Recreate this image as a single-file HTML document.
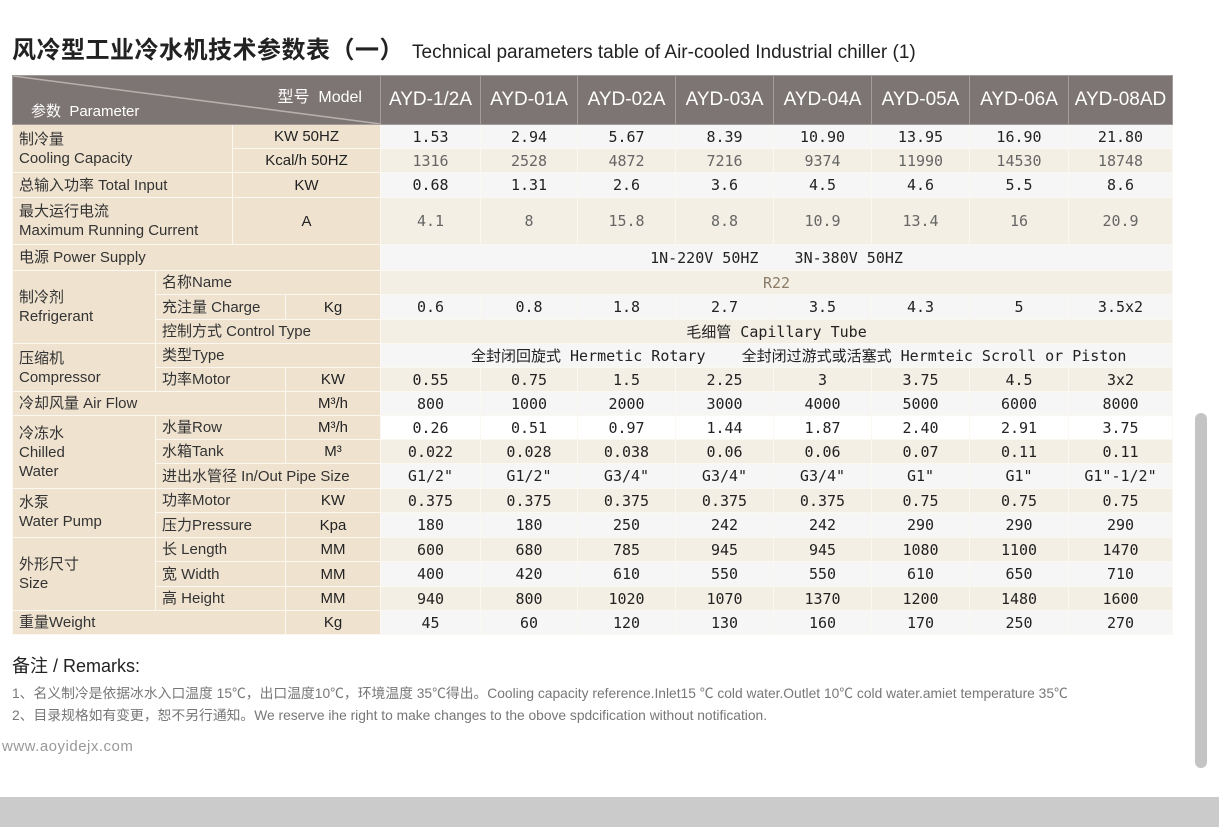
<!DOCTYPE html>
<html><head><meta charset="utf-8">
<style>
html,body{margin:0;padding:0;background:#fff;width:1219px;height:832px;overflow:hidden;position:relative;font-family:"Liberation Sans","Noto Sans CJK SC",sans-serif;}
.title{position:absolute;left:12px;top:30px;white-space:nowrap;color:#222;}
.title .cn{font-size:24px;font-weight:bold;letter-spacing:0.5px;}
.title .en{font-size:19px;margin-left:8px;}
table{position:absolute;left:12px;top:75px;border-collapse:collapse;table-layout:fixed;width:1160px;}
td{padding:0;border:1px solid #fbf7f1;font-size:15px;overflow:hidden;white-space:nowrap;}
td.p{background:#efe3d0;color:#333;padding-left:6px;line-height:19px;}
td.u{background:#efe3d0;color:#222;text-align:center;}
td.v{text-align:center;font-family:"DejaVu Sans Mono","Noto Sans CJK SC",monospace;color:#222;}
tr.a td.v{background:#f6f6f6;}
tr.b td.v{background:#f4efe4;}
tr.g td.v{color:#666;}
th{background:#7d7573;color:#fff;font-weight:normal;font-size:19px;border:1px solid #a39c9a;height:46px;}
.grp{vertical-align:middle;}
.remarks{position:absolute;left:12px;top:652px;font-size:18px;color:#222;}
.note{position:absolute;left:12px;font-size:13.8px;color:#777;white-space:nowrap;}
.site{position:absolute;left:2px;top:738px;font-size:15px;color:#999;letter-spacing:0.5px;}
.band{position:absolute;left:0;top:797px;width:1219px;height:30px;background:#cbcbcb;}
.sb{position:absolute;left:1195px;top:413px;width:12px;height:355px;background:#c4c4c4;border-radius:6px;}
</style></head><body>
<div class="title"><span class="cn">风冷型工业冷水机技术参数表（一）</span><span class="en">Technical parameters table of Air-cooled Industrial chiller (1)</span></div>
<table>
<colgroup><col style="width:143px"><col style="width:77px"><col style="width:53px"><col style="width:95px"><col style="width:100px"><col style="width:97px"><col style="width:98px"><col style="width:98px"><col style="width:98px"><col style="width:98px"><col style="width:99px"><col style="width:104px"></colgroup>
<tr style="height:48px"><th colspan="4" style="position:relative;text-align:left;">
<svg width="368" height="48" style="position:absolute;left:0;top:0"><line x1="0" y1="0" x2="368" y2="48" stroke="#b8b0ad" stroke-width="1.5"/></svg>
<span style="position:absolute;right:18px;top:7px;font-size:16px;">型号&nbsp; Model</span>
<span style="position:absolute;left:18px;top:24px;font-size:15px;">参数&nbsp; Parameter</span></th>
<th>AYD-1/2A</th><th>AYD-01A</th><th>AYD-02A</th><th>AYD-03A</th><th>AYD-04A</th><th>AYD-05A</th><th>AYD-06A</th><th>AYD-08AD</th></tr>
<tr class="a" style="height:24px"><td class="p grp" colspan="2" rowspan="2">制冷量<br>Cooling Capacity</td><td class="u" colspan="2">KW 50HZ</td><td class="v">1.53</td><td class="v">2.94</td><td class="v">5.67</td><td class="v">8.39</td><td class="v">10.90</td><td class="v">13.95</td><td class="v">16.90</td><td class="v">21.80</td></tr>
<tr class="b g" style="height:24px"><td class="u" colspan="2">Kcal/h 50HZ</td><td class="v">1316</td><td class="v">2528</td><td class="v">4872</td><td class="v">7216</td><td class="v">9374</td><td class="v">11990</td><td class="v">14530</td><td class="v">18748</td></tr>
<tr class="a" style="height:25px"><td class="p" colspan="2">总输入功率 Total Input</td><td class="u" colspan="2">KW</td><td class="v">0.68</td><td class="v">1.31</td><td class="v">2.6</td><td class="v">3.6</td><td class="v">4.5</td><td class="v">4.6</td><td class="v">5.5</td><td class="v">8.6</td></tr>
<tr class="b g" style="height:47px"><td class="p" colspan="2">最大运行电流<br>Maximum Running Current</td><td class="u" colspan="2">A</td><td class="v">4.1</td><td class="v">8</td><td class="v">15.8</td><td class="v">8.8</td><td class="v">10.9</td><td class="v">13.4</td><td class="v">16</td><td class="v">20.9</td></tr>
<tr class="a" style="height:26px"><td class="p" colspan="4">电源 Power Supply</td><td class="v" colspan="8">1N-220V 50HZ&nbsp;&nbsp;&nbsp; 3N-380V 50HZ</td></tr>
<tr class="b g" style="height:24px"><td class="p grp" rowspan="3">制冷剂<br>Refrigerant</td><td class="p" colspan="3">名称Name</td><td class="v" colspan="8" style="color:#8a7a66">R22</td></tr>
<tr class="a" style="height:25px"><td class="p" colspan="2">充注量 Charge</td><td class="u">Kg</td><td class="v">0.6</td><td class="v">0.8</td><td class="v">1.8</td><td class="v">2.7</td><td class="v">3.5</td><td class="v">4.3</td><td class="v">5</td><td class="v">3.5x2</td></tr>
<tr class="b" style="height:24px"><td class="p" colspan="3">控制方式 Control Type</td><td class="v" colspan="8">毛细管 Capillary Tube</td></tr>
<tr class="a" style="height:24px"><td class="p grp" rowspan="2">压缩机<br>Compressor</td><td class="p" colspan="3">类型Type</td><td class="v" colspan="8" style="text-align:left;padding-left:90px">全封闭回旋式 Hermetic Rotary&nbsp;&nbsp;&nbsp; 全封闭过游式或活塞式 Hermteic Scroll or Piston</td></tr>
<tr class="b" style="height:24px"><td class="p" colspan="2">功率Motor</td><td class="u">KW</td><td class="v">0.55</td><td class="v">0.75</td><td class="v">1.5</td><td class="v">2.25</td><td class="v">3</td><td class="v">3.75</td><td class="v">4.5</td><td class="v">3x2</td></tr>
<tr class="a" style="height:24px"><td class="p" colspan="3">冷却风量 Air Flow</td><td class="u">M³/h</td><td class="v">800</td><td class="v">1000</td><td class="v">2000</td><td class="v">3000</td><td class="v">4000</td><td class="v">5000</td><td class="v">6000</td><td class="v">8000</td></tr>
<tr class="a" style="height:24px"><td class="p grp" rowspan="3">冷冻水<br>Chilled<br>Water</td><td class="p" colspan="2">水量Row</td><td class="u">M³/h</td><td class="v" style="background:#fff">0.26</td><td class="v" style="background:#fff">0.51</td><td class="v" style="background:#fff">0.97</td><td class="v" style="background:#fff">1.44</td><td class="v" style="background:#fff">1.87</td><td class="v" style="background:#fff">2.40</td><td class="v" style="background:#fff">2.91</td><td class="v" style="background:#fff">3.75</td></tr>
<tr class="b" style="height:24px"><td class="p" colspan="2">水箱Tank</td><td class="u">M³</td><td class="v">0.022</td><td class="v">0.028</td><td class="v">0.038</td><td class="v">0.06</td><td class="v">0.06</td><td class="v">0.07</td><td class="v">0.11</td><td class="v">0.11</td></tr>
<tr class="a" style="height:25px"><td class="p" colspan="3">进出水管径 In/Out Pipe Size</td><td class="v">G1/2"</td><td class="v">G1/2"</td><td class="v">G3/4"</td><td class="v">G3/4"</td><td class="v">G3/4"</td><td class="v">G1"</td><td class="v">G1"</td><td class="v">G1"-1/2"</td></tr>
<tr class="b" style="height:24px"><td class="p" rowspan="2" style="vertical-align:top;padding-top:4px">水泵<br>Water Pump</td><td class="p" colspan="2">功率Motor</td><td class="u">KW</td><td class="v">0.375</td><td class="v">0.375</td><td class="v">0.375</td><td class="v">0.375</td><td class="v">0.375</td><td class="v">0.75</td><td class="v">0.75</td><td class="v">0.75</td></tr>
<tr class="a" style="height:25px"><td class="p" colspan="2">压力Pressure</td><td class="u">Kpa</td><td class="v">180</td><td class="v">180</td><td class="v">250</td><td class="v">242</td><td class="v">242</td><td class="v">290</td><td class="v">290</td><td class="v">290</td></tr>
<tr class="b" style="height:24px"><td class="p grp" rowspan="3">外形尺寸<br>Size</td><td class="p" colspan="2">长 Length</td><td class="u">MM</td><td class="v">600</td><td class="v">680</td><td class="v">785</td><td class="v">945</td><td class="v">945</td><td class="v">1080</td><td class="v">1100</td><td class="v">1470</td></tr>
<tr class="a" style="height:25px"><td class="p" colspan="2">宽 Width</td><td class="u">MM</td><td class="v">400</td><td class="v">420</td><td class="v">610</td><td class="v">550</td><td class="v">550</td><td class="v">610</td><td class="v">650</td><td class="v">710</td></tr>
<tr class="b" style="height:24px"><td class="p" colspan="2">高 Height</td><td class="u">MM</td><td class="v">940</td><td class="v">800</td><td class="v">1020</td><td class="v">1070</td><td class="v">1370</td><td class="v">1200</td><td class="v">1480</td><td class="v">1600</td></tr>
<tr class="a" style="height:24px"><td class="p" colspan="3">重量Weight</td><td class="u">Kg</td><td class="v">45</td><td class="v">60</td><td class="v">120</td><td class="v">130</td><td class="v">160</td><td class="v">170</td><td class="v">250</td><td class="v">270</td></tr>
</table>
<div class="remarks">备注 / Remarks:</div>
<div class="note" style="top:682px">1、名义制冷是依据冰水入口温度 15℃，出口温度10℃，环境温度 35℃得出。Cooling capacity reference.Inlet15 ℃ cold water.Outlet 10℃ cold water.amiet temperature 35℃</div>
<div class="note" style="top:704px">2、目录规格如有变更，恕不另行通知。We reserve ihe right to make changes to the obove spdcification without notification.</div>
<div class="site">www.aoyidejx.com</div>
<div class="sb"></div>
<div class="band"></div>
</body></html>
